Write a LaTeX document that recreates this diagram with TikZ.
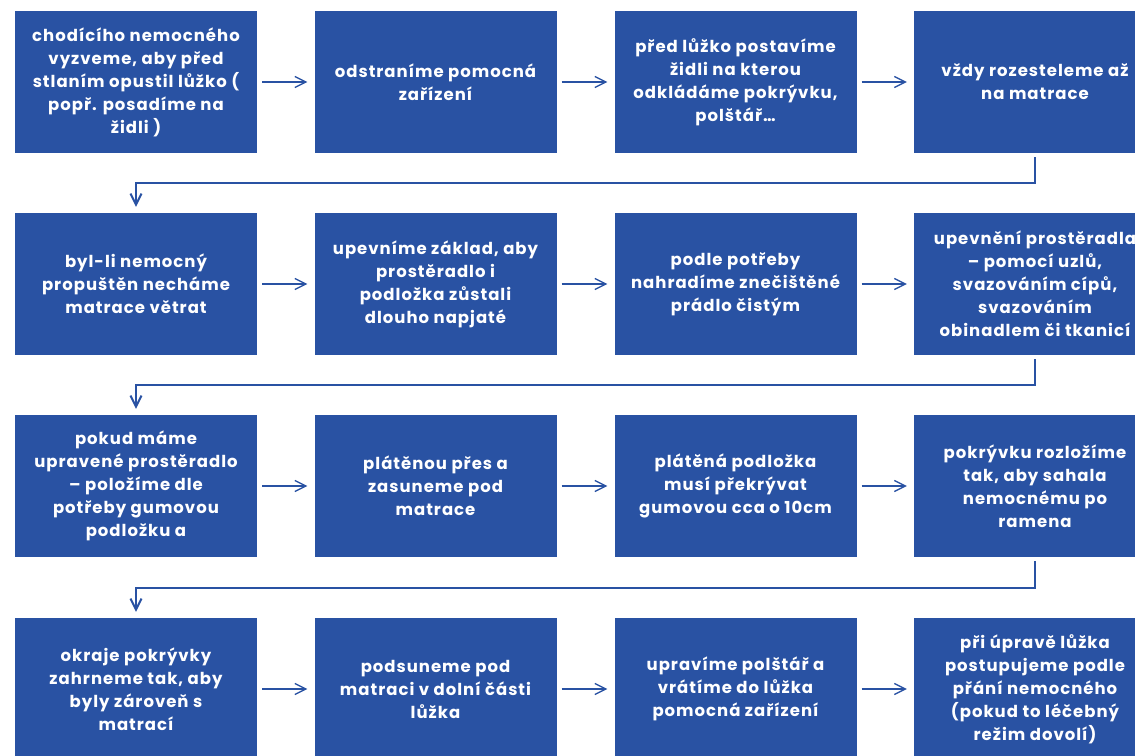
\documentclass[tikz,border=0pt]{standalone}
\usepackage{fontspec}
\setmainfont{Poppins}[LetterSpace=6]
\usetikzlibrary{arrows.meta,positioning}
\definecolor{modra}{RGB}{41,82,163}

\begin{document}
\begin{tikzpicture}[x=1pt,y=-1pt,
    krok/.style={fill=modra, text=white, minimum width=242pt, minimum height=142pt,
        inner sep=0pt, align=center, font=\bfseries\fontsize{16.5}{23}\selectfont},
    sipka/.style={draw=modra, line width=1.3pt, shorten <=5pt, shorten >=7pt,
        -{Straight Barb[length=11pt,width=11pt]}},
    zlom/.style={draw=modra, line width=2pt, shorten <=4pt, shorten >=6pt,
        -{Straight Barb[length=11pt,width=11pt]}}]
    \useasboundingbox (0,0) rectangle (1135,755);
    \clip (0,0) rectangle (1135,755);

    % prvni rada
    \node[krok] (a1) at (136,82) {chodícího nemocného\\vyzveme, aby před\\stlaním opustil lůžko (\\popř. posadíme na\\židli )};
    \node[krok] (a2) at (435.5,82) {odstraníme pomocná\\zařízení};
    \node[krok] (a3) at (735.5,82) {před lůžko postavíme\\židli na kterou\\odkládáme pokrývku,\\polštář…};
    \node[krok] (a4) at (1035,82) {vždy rozesteleme až\\na matrace};

    % druha rada
    \node[krok] (b1) at (136,284) {byl-li nemocný\\propuštěn necháme\\matrace větrat};
    \node[krok] (b2) at (435.5,284) {upevníme základ, aby\\prostěradlo i\\podložka zůstali\\dlouho napjaté};
    \node[krok] (b3) at (735.5,284) {podle potřeby\\nahradíme znečištěné\\prádlo čistým};
    \node[krok] (b4) at (1035,284) {upevnění prostěradla\\-- pomocí uzlů,\\svazováním cípů,\\svazováním\\obinadlem či tkanicí};

    % treti rada
    \node[krok] (c1) at (136,486) {pokud máme\\upravené prostěradlo\\-- položíme dle\\potřeby gumovou\\podložku a};
    \node[krok] (c2) at (435.5,486) {plátěnou přes a\\zasuneme pod\\matrace};
    \node[krok] (c3) at (735.5,486) {plátěná podložka\\musí překrývat\\gumovou cca o 10cm};
    \node[krok] (c4) at (1035,486) {pokrývku rozložíme\\tak, aby sahala\\nemocnému po\\ramena};

    % ctvrta rada
    \node[krok] (d1) at (136,689) {okraje pokrývky\\zahrneme tak, aby\\byly zároveň s\\matrací};
    \node[krok] (d2) at (435.5,689) {podsuneme pod\\matraci v dolní části\\lůžka};
    \node[krok] (d3) at (735.5,689) {upravíme polštář a\\vrátíme do lůžka\\pomocná zařízení};
    \node[krok] (d4) at (1035,689) {při úpravě lůžka\\postupujeme podle\\přání nemocného\\(pokud to léčebný\\režim dovolí)};

    % sipky
    \draw[sipka] (a1) -- (a2);
    \draw[sipka] (a2) -- (a3);
    \draw[sipka] (a3) -- (a4);
    \draw[sipka] (b1) -- (b2);
    \draw[sipka] (b2) -- (b3);
    \draw[sipka] (b3) -- (b4);
    \draw[sipka] (c1) -- (c2);
    \draw[sipka] (c2) -- (c3);
    \draw[sipka] (c3) -- (c4);
    \draw[sipka] (d1) -- (d2);
    \draw[sipka] (d2) -- (d3);
    \draw[sipka] (d3) -- (d4);

    % prechody mezi radami
    \draw[zlom] (a4.south) -- ++(0,30) -| (b1.north);
    \draw[zlom] (b4.south) -- ++(0,30) -| (c1.north);
    \draw[zlom] (c4.south) -- ++(0,31) -| (d1.north);
\end{tikzpicture}
\end{document}
